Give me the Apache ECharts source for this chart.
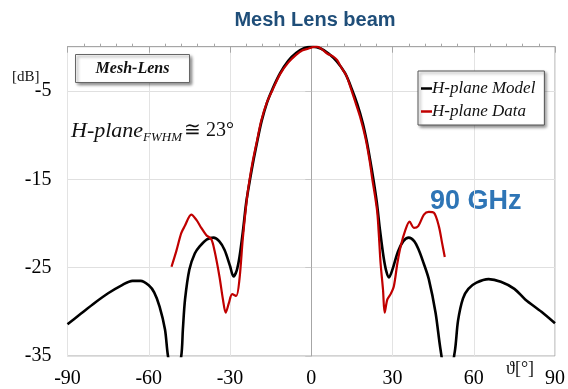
<!DOCTYPE html>
<html>
<head>
<meta charset="utf-8">
<script src="https://cdn.jsdelivr.net/npm/echarts@6/dist/echarts.min.js"></script>
<style>
  html, body { margin: 0; padding: 0; background: #fff; }
  #chart { width: 568px; height: 389px; }
</style>
</head>
<body>
<div id="chart"></div>
<script>
// H-plane radiation pattern of the mesh lens at 90 GHz (angle in degrees, level in dB)
const modelTheta = [-90, -85, -80, -75, -70, -66, -63, -60, -58, -56, -54, -52.9, -50.5, -48, -47.4, -46.6, -45, -43, -41.2, -38.5, -36.1, -34, -32, -30, -28.7,
  -27.5, -26.5, -25.2, -24, -22.6, -21.3, -19.8, -18.3, -16.3, -14.2, -11.5, -8.5, -5.5, -2.5, 0.5, 3.5, 6.5, 9.5, 12.5, 15, 17, 19, 20.5, 21.8, 23, 24.2, 25.4, 26.7, 27.7,
  28.7, 30, 32, 34, 36, 38, 39.7, 41.5, 43.4, 45.9, 47.7, 50.3, 53.0, 54.2, 56, 58, 61, 65.5, 70, 75, 79, 85, 90];
const modelDb = [-31.4, -30.2, -29.0, -27.9, -27.0, -26.5, -26.5, -27.0, -27.8, -29.4, -32.0, -35.0, -38.5, -35.0, -32.0, -28.6, -25.2, -23.4, -22.6, -21.8, -21.6, -22.0, -23.0, -24.8, -26.0,
  -25.3, -23.8, -20.8, -17.6, -15.0, -12.8, -10.5, -8.4, -6.3, -4.7, -3.0, -1.6, -0.7, -0.15, 0, -0.2, -0.8, -1.7, -3.0, -4.8, -6.5, -8.6, -10.7, -12.9, -15.1, -17.6, -20.8, -23.8, -25.4,
  -26.1, -25.2, -23.2, -22.0, -21.6, -22.0, -23.0, -24.5, -26.3, -30.1, -34.2, -38.5, -34.5, -31.0, -28.5, -27.4, -26.7, -26.3, -26.6, -27.4, -28.6, -30.0, -31.3];

const dataTheta = [-51.6, -49.8, -48, -46.7, -44.3, -42.4, -40.6, -38.8, -36.9, -35.7, -33.9, -32.6, -31.6, -30.4, -29.2, -27.7, -26.5, -25.3, -23.8, -22.8,
  -21.5, -20, -18.5, -16.5, -14.3, -11.5, -8.5, -5.5, -3.2, -1.5, 0.5, 2, 4, 6, 8, 9.5, 11, 13, 14.5, 16, 18, 20, 21.5, 22.6,
  23.6, 24.4, 25, 25.6, 26.5, 27.1, 28.1, 29.3, 30.5, 31.8, 33, 34.8, 36.3, 37.9, 39.5, 41.6, 43.4, 45.3, 47.1, 48.3, 49.3];
const dataDb = [-24.9, -23.1, -21.1, -20.3, -19.0, -19.6, -20.5, -21.3, -21.8, -23.1, -26.0, -28.6, -30.1, -29.0, -28.0, -28.2, -26.3, -21.8, -17.3, -15.1,
  -12.8, -10.6, -8.4, -6.4, -4.9, -3.1, -1.8, -0.9, -0.4, -0.25, -0.05, 0, -0.3, -0.8, -1.1, -1.5, -2.3, -3.3, -4.6, -6.0, -7.9, -10.3, -12.8, -15.1,
  -17.0, -18.8, -21.5, -24.5, -27.5, -30.1, -28.6, -28.0, -27.1, -24.5, -22.6, -20.7, -19.8, -20.5, -20.3, -19.0, -18.7, -18.8, -20.3, -22.2, -23.8];

const xTicks = { min: -90, max: 90, step: 30 };
const yTickValues = [-35, -25, -15, -5];
const yRange = { min: -35, max: 0 };

const serif = '"Liberation Serif", "Times New Roman", serif';
const pairs = (xs, ys) => xs.map((x, i) => [x, ys[i]]);

const chart = echarts.init(document.getElementById('chart'), null, { renderer: 'canvas' });

chart.setOption({
  animation: false,
  backgroundColor: '#fff',
  title: {
    text: 'Mesh Lens beam',
    left: 310, textAlign: 'center', top: 5,
    textStyle: { fontFamily: '"Liberation Sans", Arial, sans-serif', fontWeight: 'bold', fontSize: 20, color: '#1F4E79' }
  },
  grid: {
    left: 67.5, right: 11.5, top: 46.7, bottom: 32.3,
    show: true, borderColor: '#a6a6a6', borderWidth: 1
  },
  legend: {
    orient: 'vertical',
    left: 418, top: 71,
    padding: [9, 9, 5, 3],
    itemGap: 6,
    icon: 'rect',
    itemWidth: 11, itemHeight: 2.5,
    backgroundColor: '#fff',
    borderColor: '#555', borderWidth: 1,
    shadowColor: 'rgba(0,0,0,0.45)', shadowBlur: 3, shadowOffsetX: 2, shadowOffsetY: 2,
    textStyle: { fontFamily: serif, fontStyle: 'italic', fontSize: 17, color: '#111', padding: [0, 0, 0, -5] },
    data: ['H-plane Model', 'H-plane Data']
  },
  xAxis: {
    type: 'value',
    min: xTicks.min, max: xTicks.max, interval: xTicks.step,
    axisLine: { show: true, lineStyle: { color: '#a6a6a6', width: 1 } },
    axisTick: { show: true, length: 6, lineStyle: { color: '#a6a6a6' } },
    minorTick: { show: true, splitNumber: 5, length: -3, lineStyle: { color: '#a6a6a6' } },
    splitLine: { show: true, lineStyle: { color: '#e3e3e3', width: 1 } },
    axisLabel: { margin: 13, fontFamily: serif, fontSize: 20, color: '#000' }
  },
  yAxis: {
    type: 'value',
    min: yRange.min, max: yRange.max,
    axisLine: { show: true, lineStyle: { color: '#a6a6a6', width: 1 } },
    axisTick: { show: true, length: 6, customValues: yTickValues, lineStyle: { color: '#c8c8c8' } },
    splitLine: { show: true, lineStyle: { color: '#e0e0e0', width: 1 } },
    axisLabel: { margin: 16, customValues: yTickValues, fontFamily: serif, fontSize: 20, color: '#000' }
  },
  graphic: [
    {
      type: 'group', left: 75, top: 54, z: 100,
      children: [
        { type: 'rect', z: 100, shape: { x: 0, y: 0, width: 114, height: 28 },
          style: { fill: '#fff', stroke: '#666', lineWidth: 1, shadowColor: 'rgba(0,0,0,0.45)', shadowBlur: 3, shadowOffsetX: 2, shadowOffsetY: 2 } },
        { type: 'text', z: 101, x: 57, y: 14,
          style: { text: 'Mesh-Lens', align: 'center', verticalAlign: 'middle', font: 'italic bold 16px ' + serif, fill: '#111' } }
      ]
    },
    {
      type: 'text', left: 71, top: 120, z: 100,
      style: {
        text: '{i|H-plane}{s|FWHM}{n|≅ 23°}',
        rich: {
          i: { fontFamily: serif, fontStyle: 'italic', fontSize: 22, lineHeight: 26, fill: '#111' },
          s: { fontFamily: serif, fontStyle: 'italic', fontSize: 13, lineHeight: 12, verticalAlign: 'bottom', fill: '#111' },
          n: { fontFamily: serif, fontSize: 20, lineHeight: 26, fill: '#111', padding: [0, 0, 0, 2] }
        }
      }
    },
    {
      type: 'text', left: 12, top: 70,
      style: { text: '[dB]', font: '15px ' + serif, fill: '#111' }
    },
    {
      type: 'text', left: 506, top: 360,
      style: { text: 'ϑ[°]', font: '18px ' + serif, fill: '#111' }
    },
    {
      type: 'text', left: 430, top: 188,
      style: { text: '90 GHz', font: 'bold 27px "Liberation Sans", Arial, sans-serif', fill: '#2E75B6' }
    }
  ],
  series: [
    {
      name: 'H-plane Model', type: 'line', data: pairs(modelTheta, modelDb),
      showSymbol: false, symbol: 'none', smooth: 0.3, clip: true,
      lineStyle: { color: '#000', width: 2.6 }, itemStyle: { color: '#000' }, z: 2
    },
    {
      name: 'H-plane Data', type: 'line', data: pairs(dataTheta, dataDb),
      showSymbol: false, symbol: 'none', smooth: 0.3, clip: true,
      lineStyle: { color: '#C00000', width: 2.2 }, itemStyle: { color: '#C00000' }, z: 3
    }
  ]
});
</script>
</body>
</html>
